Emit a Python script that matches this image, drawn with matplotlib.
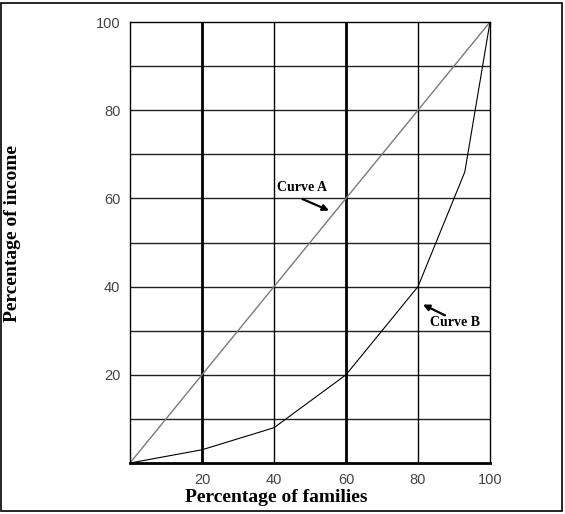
import matplotlib.pyplot as plt
from matplotlib.patches import Rectangle

# Данные кривых
families_a = [0, 100]
income_a = [0, 100]
families_b = [0, 20, 40, 60, 80, 93, 100]
income_b = [0, 3, 8, 20, 40, 66, 100]
tick_values = [20, 40, 60, 80, 100]

fig = plt.figure(figsize=(5.65, 5.14), dpi=100)
ax = fig.add_axes([130 / 565, 51 / 514, 360 / 565, 441 / 514])
ax.set_xlim(0, 100)
ax.set_ylim(0, 100)

# Сетка
for y in range(10, 100, 10):
    ax.axhline(y, color="#222222", linewidth=1.0, zorder=1)
for x in [20, 40, 60, 80]:
    lw = 2.0 if x in (20, 60) else 1.0
    ax.axvline(x, color="black", linewidth=lw, zorder=1)

# Кривые
ax.plot(families_a, income_a, color="#7a7a7a", linewidth=1.0, zorder=2)
ax.plot(families_b, income_b, color="black", linewidth=0.8, zorder=2)

# Подписи кривых
ax.text(40.8, 62.4, "Curve A", fontsize=10, fontweight="bold",
        family="Liberation Serif", ha="left", va="center")
ax.annotate("", xy=(56.0, 57.0), xytext=(47.2, 60.1),
            arrowprops=dict(arrowstyle="-|>", color="black", lw=1.6, mutation_scale=9))
ax.text(83.3, 31.8, "Curve B", fontsize=10, fontweight="bold",
        family="Liberation Serif", ha="left", va="center")
ax.annotate("", xy=(80.7, 36.2), xytext=(88.2, 33.2),
            arrowprops=dict(arrowstyle="-|>", color="black", lw=1.6, mutation_scale=9))

# Оси
ax.set_xticks(tick_values)
ax.set_yticks(tick_values)
ax.tick_params(length=0, labelsize=10.5, labelcolor="#444444", pad=7)
for lab in ax.get_xticklabels() + ax.get_yticklabels():
    lab.set_family("Liberation Sans")
for side in ["left", "top", "right"]:
    ax.spines[side].set_linewidth(1.0)
ax.spines["bottom"].set_linewidth(2.0)

fig.text(276 / 565, 1 - 497 / 514, "Percentage of families", fontsize=14,
         fontweight="bold", family="Liberation Serif", ha="center", va="center")
fig.text(13 / 565, 1 - 234 / 514, "Percentage of income", fontsize=14,
         fontweight="bold", family="Liberation Serif", ha="center", va="center",
         rotation=90)

# Рамка вокруг рисунка
fig.patches.append(Rectangle((1 / 565, 3 / 514), 561 / 565, 508 / 514,
                             transform=fig.transFigure, fill=False,
                             edgecolor="black", linewidth=1.2))

fig.savefig("out.png", dpi=100)
